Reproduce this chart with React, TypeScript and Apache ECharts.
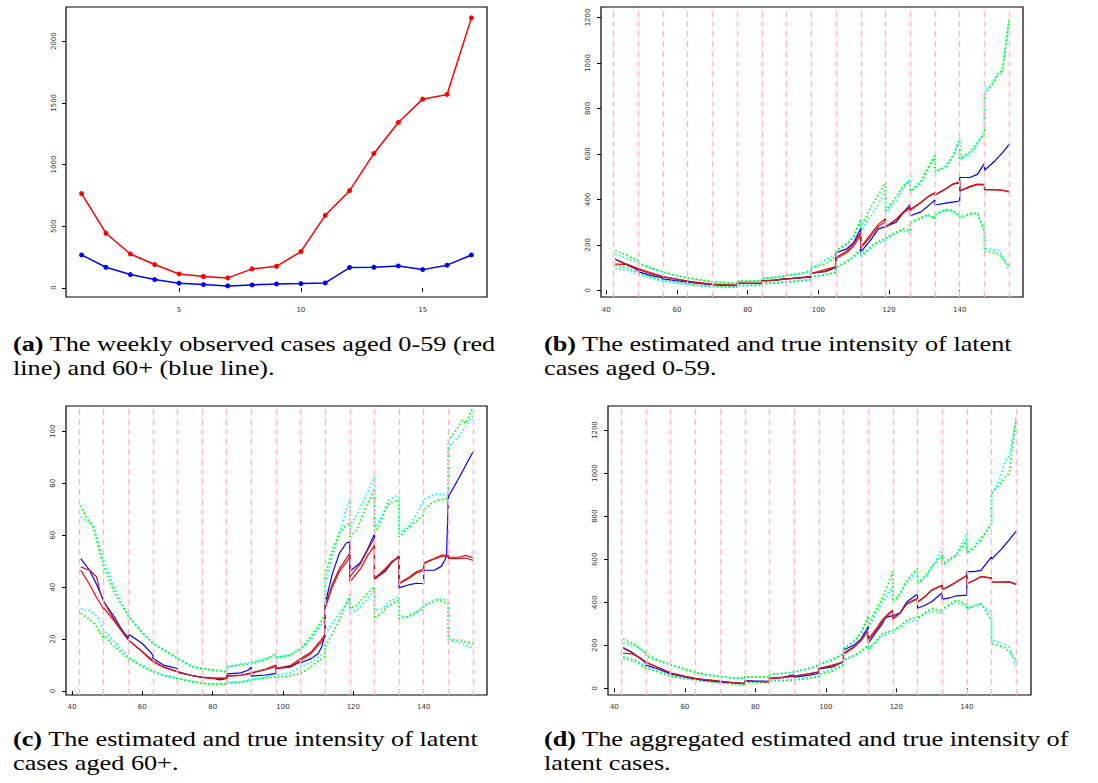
import React, { useEffect, useRef } from "react";
import * as echarts from "echarts";

// ---------- Panel (a): weekly observed cases ----------
const obsWeeks = [1, 2, 3, 4, 5, 6, 7, 8, 9, 10, 11, 12, 13, 14, 15, 16, 17];
const obsAged0to59 = [764, 443, 275, 189, 113, 92, 81, 154, 175, 294, 588, 788, 1090, 1341, 1530, 1568, 2189];
const obsAged60plus = [267, 167, 108, 67, 38, 27, 16, 24, 32, 35, 40, 165, 167, 178, 148, 184, 267];
const aXTicks = [5, 10, 15];
const aYTicks = [0, 500, 1000, 1500, 2000];

// ---------- week boundaries (dashed pink lines) ----------
const weekBoundaries = [42, 49, 56, 63, 70, 77, 84, 91, 98, 105, 112, 119, 126, 133, 140, 147, 154];
const dayTicks = [40, 60, 80, 100, 120, 140];
const bYTicks = [0, 200, 400, 600, 800, 1000, 1200];
const cYTicks = [0, 20, 40, 60, 80, 100];
const dYTicks = [0, 200, 400, 600, 800, 1000, 1200];

// ---------- Panel (b): aged 0-59 ----------
const bTrue = [[42.5,137],[45,118],[49,88],[49,82],[52,68],[56,55],[56,50],[60,42],[63,36],[63,38],[66,30],[70,25],[70,24],[73,22],[77,20],[77,32],[80,30],[84,30],[84,42],[88,44],[90,50],[91,50],[91,48],[95,54],[98,58],[98,75],[102,82],[105,100],[105,165],[108,182],[110,210],[112,272],[112,168],[115,225],[117,270],[119,280],[119,282],[122,300],[124,340],[126,378],[126,328],[129,345],[131,370],[133,397],[133,375],[136,383],[138,388],[140,392],[140,496],[143,497],[145,510],[147,558],[147,528],[150,570],[152,603],[154,642]];
const bEst1 = [[42.5,115],[46,114],[49,96],[56,60],[63,40],[70,27],[77,22],[77,30],[84,32],[84,41],[91,50],[98,61],[98,75],[105,104],[105,145],[108,172],[110,205],[112,255],[112,190],[115,250],[117,290],[119,315],[119,280],[122,312],[124,345],[126,365],[126,355],[129,387],[131,412],[133,430],[133,420],[136,447],[138,467],[140,477],[140,438],[143,458],[145,467],[147,466],[147,444],[150,443],[152,441],[154,434]];
const bEst2 = [[42.5,137],[45,120],[49,92],[52,75],[56,59],[60,48],[63,40],[66,32],[70,26],[73,24],[77,22],[77,30],[80,30],[84,32],[84,40],[88,44],[91,50],[95,55],[98,60],[98,74],[102,85],[105,103],[105,140],[108,165],[110,195],[112,245],[112,185],[115,240],[117,280],[119,302],[119,278],[122,310],[124,340],[126,362],[126,352],[129,385],[131,410],[133,428],[133,418],[136,445],[138,465],[140,475],[140,436],[143,455],[145,465],[147,464],[147,442],[150,442],[152,440],[154,432]];
const bUpperA = [[42.5,175],[45,160],[49,130],[49,118],[52,100],[56,82],[60,65],[63,55],[66,48],[70,38],[73,34],[77,30],[77,40],[80,40],[84,42],[84,52],[88,58],[91,65],[95,75],[98,85],[98,100],[102,115],[105,150],[105,175],[108,200],[110,240],[112,310],[112,280],[115,370],[117,420],[119,475],[119,350],[122,410],[124,460],[126,480],[126,435],[129,480],[131,540],[133,590],[133,520],[136,545],[138,590],[140,660],[140,580],[143,610],[145,650],[147,690],[147,860],[149,900],[151,960],[152,965],[154,1195]];
const bUpperB = [[42.5,160],[49,122],[56,78],[63,52],[70,36],[77,28],[77,38],[84,40],[84,50],[91,62],[98,82],[98,98],[105,160],[105,172],[110,230],[112,315],[112,265],[115,330],[117,380],[119,440],[119,340],[122,395],[124,450],[126,490],[126,430],[129,470],[131,530],[133,600],[133,525],[136,540],[138,585],[140,670],[140,575],[143,600],[145,640],[147,700],[147,880],[149,910],[151,950],[152,955],[154,1190]];
const bLowerA = [[42.5,110],[46,98],[49,78],[52,62],[56,45],[60,35],[63,28],[66,22],[70,18],[73,16],[77,14],[77,22],[80,22],[84,24],[84,30],[88,32],[91,38],[95,42],[98,48],[98,60],[102,68],[105,80],[105,100],[108,125],[110,150],[112,180],[112,150],[115,195],[117,215],[119,225],[119,230],[122,255],[124,270],[126,262],[126,300],[129,320],[131,335],[133,315],[133,335],[136,355],[138,350],[140,325],[140,320],[143,338],[145,340],[147,265],[147,170],[149,168],[151,160],[152,140],[154,105]];
const bLowerB = [[42.5,95],[46,88],[49,70],[52,58],[56,40],[60,32],[63,25],[66,20],[70,15],[73,13],[77,12],[77,20],[84,22],[84,28],[91,35],[98,45],[98,58],[105,78],[105,98],[110,145],[112,175],[112,145],[115,185],[117,210],[119,222],[119,228],[122,250],[124,262],[126,255],[126,295],[129,315],[131,330],[133,312],[133,330],[136,352],[138,348],[140,330],[140,318],[143,335],[145,338],[147,255],[147,185],[149,180],[151,175],[152,150],[154,88]];

// ---------- Panel (c): aged 60+ ----------
const cTrue = [[42.5,51],[45,46.5],[47,41],[49,35],[49,34.4],[52,28.6],[54,24],[56,20.3],[56,22],[60,18.3],[62,15.5],[63,13.8],[63,12.6],[66,10],[70,8.7],[70,7.2],[74,6],[77,5.4],[80,5],[82,4.3],[84,4.9],[84,6.6],[88,7],[90,8],[91,9.2],[91,5.8],[95,6.2],[98,6.8],[98,8.7],[102,9.2],[105,11.3],[105,10.9],[108,12.5],[110,14.5],[111,17],[112,22],[112,33.7],[114,45],[116,53],[118,57],[119,57.4],[119,46],[122,49.5],[124,54.5],[126,60.4],[126,43],[129,46],[131,49.5],[133,51.9],[133,39.7],[136,41],[138,41.5],[140,41.3],[140,46.5],[143,46.5],[145,48],[146.5,51.7],[147,74.7],[150,82],[152,87],[154,92]];
const cEst1 = [[42.5,46.5],[45,41],[47,36],[49,31.5],[49,32],[52,27],[56,19.6],[60,15],[63,11.3],[66,9.2],[70,7.4],[74,6],[77,5.3],[80,4.9],[84,4.9],[84,5.7],[88,6],[91,6.8],[95,8.2],[98,9.5],[98,8.5],[102,9.5],[105,11.8],[108,14.5],[111,19],[112,21.5],[112,32],[114,40],[116,46],[119,51.5],[119,42],[122,47],[124,52],[126,56],[126,43.3],[129,47],[131,50],[133,51.7],[133,41.3],[136,43.5],[138,45.5],[140,46.5],[140,49.4],[143,51],[145,52.3],[147,52.3],[147,51.5],[150,51.5],[152,52.2],[154,51.3]];
const cEst2 = [[42.5,47.8],[45,46.5],[47,44],[48,38],[49,34.5],[52,27.5],[56,19.8],[60,15.3],[63,11.8],[66,9.3],[70,7.5],[74,6],[77,5.3],[80,5],[84,5],[84,5.9],[88,6.2],[91,7],[95,8.5],[98,10],[98,8.8],[102,9.8],[105,12.5],[108,15],[111,20],[112,22],[112,33],[114,41],[116,47],[119,53],[119,44],[122,49],[124,54],[126,59],[126,43],[129,46.5],[131,49.5],[133,52],[133,41.5],[136,44],[138,46],[140,47],[140,49],[143,50.8],[145,51.8],[147,51.8],[147,51],[150,51],[152,51.2],[154,50.3]];
const cUpperA = [[42.5,71.5],[44,67],[46,63.2],[47,58],[49,48],[52,38],[56,29],[60,22.5],[63,18.3],[67,15.1],[70,12.6],[74,9.5],[77,8.7],[80,8.1],[84,7.4],[84,9.4],[88,10],[91,10.6],[95,12],[98,14.5],[98,12.9],[102,13.8],[105,16.4],[108,21],[111,27.3],[112,30],[112,45.3],[114,54],[116,60.6],[118,64],[119,64.5],[119,59.4],[121,62],[123,69],[126,77.9],[126,60.6],[128,66],[130,72.2],[133,73.5],[133,59.4],[135,62],[137,64.5],[140,67.7],[140,69.6],[142,72],[144,73.5],[147,74.1],[147,96.5],[149,100],[151,104.2],[152,103],[154,109.4]];
const cUpperB = [[42.5,67],[44,65.5],[46,64],[48,55],[49,50.4],[52,40],[56,28.6],[60,22.5],[63,18.5],[67,15],[70,12.5],[74,9.5],[77,8.5],[80,8.2],[84,7.5],[84,9.2],[88,10.5],[91,11],[95,12.5],[98,13.5],[98,13],[102,14],[105,16],[108,20],[110,24],[112,27.3],[112,41.4],[114,52],[116,60.6],[118,70],[119,74.1],[119,63.2],[121,68],[123,73.5],[126,82.4],[126,63.2],[128,67],[130,73.5],[132,75],[133,74.7],[133,60.6],[136,64],[138,68],[140,73.5],[142,75],[144,76],[147,75.3],[147,94],[150,98],[152,102],[154,106]];
const cLowerA = [[42.5,29.9],[46,26.7],[49,20.3],[49,21.5],[52,17.1],[56,12.6],[60,9.4],[63,7.4],[66,6],[70,4.9],[74,3.6],[77,2.9],[80,2.6],[84,2.7],[84,3.2],[88,3.3],[91,4.2],[95,5],[98,5.5],[98,5.2],[102,5.8],[105,6.8],[108,9.4],[110,11.5],[112,13.2],[112,17],[114,22],[116,27.3],[119,36.9],[119,31.8],[121,33],[123,36.3],[126,40.1],[126,27.9],[128,30],[130,33],[133,35],[133,27.9],[135,28.5],[137,29.9],[140,31.8],[140,33],[142,34],[144,35],[147,33.7],[147,20.3],[149,19.5],[151,19.6],[152,18.8],[154,18.3]];
const cLowerB = [[42.5,31.8],[45,31],[47,29],[49,23.5],[52,19],[56,13.2],[60,10],[63,7.8],[66,6.2],[70,4.9],[74,3.8],[77,3.2],[80,3],[84,2.9],[84,3.3],[88,3.6],[91,4.5],[95,5.5],[98,6.5],[98,6],[102,7],[105,9.4],[108,11],[110,13],[112,15.1],[112,22.2],[114,26],[116,29.9],[119,35.6],[119,30.5],[121,31],[123,34],[126,38.8],[126,31.2],[128,31.5],[130,34.4],[133,36.3],[133,29.2],[135,28.5],[137,29],[140,33],[142,34],[144,35.6],[147,35],[147,19.6],[149,19],[151,18.5],[152,17.5],[154,16.4]];

// ---------- Panel (d): aggregated ----------
const dTrue = [[42.5,190],[45,168],[49,118],[49,108],[52,92],[56,67],[60,53],[63,43],[66,37],[70,30],[73,26],[77,22],[77,36],[80,34],[84,33],[84,46],[88,50],[90,60],[91,62],[91,52],[95,60],[98,70],[98,90],[102,100],[105,124],[105,178],[108,201],[110,230],[112,286],[112,209],[114,255],[116,300],[117,330],[119,338],[121,350],[123,402],[126,438],[126,372],[128,385],[130,402],[133,444],[133,413],[135,420],[137,430],[140,433],[140,542],[142,542],[144,548],[146,590],[147,611],[147,599],[150,650],[152,690],[154,731]];
const dEst1 = [[42.5,163],[45,160],[47,145],[49,120],[56,70],[63,45],[70,33],[77,22],[77,33],[84,30],[84,45],[91,56],[98,76],[98,92],[105,122],[105,158],[108,190],[110,222],[112,268],[112,226],[114,270],[116,318],[118,352],[119,362],[119,322],[121,348],[123,392],[126,415],[126,400],[128,423],[130,455],[133,478],[133,458],[135,473],[137,493],[140,523],[140,486],[142,502],[144,520],[147,514],[147,493],[150,493],[152,494],[154,482]];
const dEst2 = [[42.5,186],[45,165],[49,122],[52,100],[56,72],[60,56],[63,46],[66,40],[70,34],[73,28],[77,23],[77,34],[80,32],[84,31],[84,46],[88,52],[91,57],[95,67],[98,77],[98,93],[102,105],[105,124],[105,163],[108,194],[110,225],[112,271],[112,224],[114,265],[116,310],[118,345],[119,364],[119,325],[121,350],[123,395],[126,418],[126,402],[128,425],[130,457],[133,480],[133,460],[135,475],[137,495],[140,526],[140,488],[142,500],[144,519],[147,511],[147,495],[150,495],[152,496],[154,485]];
const dUpperA = [[42.5,228],[46,201],[49,163],[49,150],[52,130],[56,108],[60,88],[63,73],[66,62],[70,54],[73,48],[77,46],[77,54],[80,52],[84,54],[84,65],[88,70],[91,77],[95,90],[98,108],[98,112],[102,130],[105,163],[105,186],[108,217],[110,260],[112,336],[112,286],[114,360],[116,418],[118,500],[119,542],[119,402],[121,440],[123,503],[126,557],[126,488],[128,520],[130,565],[133,619],[133,580],[135,600],[137,619],[140,689],[140,627],[142,650],[144,689],[147,766],[147,906],[149,940],[151,983],[152,1000],[154,1262]];
const dUpperB = [[42.5,210],[46,195],[49,165],[52,135],[56,110],[60,90],[63,75],[70,55],[77,45],[77,52],[84,52],[84,63],[91,75],[98,105],[98,110],[105,160],[105,182],[110,250],[112,330],[112,280],[114,340],[116,400],[118,450],[119,472],[119,400],[121,430],[123,490],[126,550],[126,490],[128,510],[130,560],[133,650],[133,570],[135,590],[137,620],[140,720],[140,630],[142,660],[144,700],[147,760],[147,900],[149,960],[151,1060],[152,1080],[154,1246]];
const dLowerA = [[42.5,139],[46,125],[49,93],[52,78],[56,56],[60,45],[63,38],[66,32],[70,26],[73,20],[77,15],[77,28],[80,27],[84,26],[84,34],[88,34],[91,38],[95,45],[98,54],[98,65],[102,80],[105,108],[105,130],[108,150],[110,175],[112,201],[112,181],[114,215],[116,255],[119,271],[121,290],[123,317],[126,333],[126,325],[128,350],[130,372],[133,356],[133,367],[135,390],[137,410],[140,387],[140,372],[142,385],[144,395],[147,317],[147,209],[149,200],[151,186],[152,170],[154,132]];
const dLowerB = [[42.5,147],[46,132],[49,101],[52,82],[56,60],[60,47],[63,40],[70,28],[77,18],[77,30],[84,28],[84,36],[91,40],[98,56],[98,68],[105,110],[105,132],[110,170],[112,194],[112,178],[114,210],[116,245],[119,263],[119,268],[121,280],[123,305],[126,317],[126,322],[128,345],[130,360],[133,348],[133,362],[135,385],[137,400],[140,379],[140,370],[142,380],[144,390],[147,348],[147,224],[149,215],[151,201],[152,190],[154,101]];

// ---------- captions ----------
const captions = [
  { tag: "(a)", line1: " The weekly observed cases aged 0-59 (red", line2: "line) and 60+ (blue line).", col: 0, row: 0 },
  { tag: "(b)", line1: " The estimated and true intensity of latent", line2: "cases aged 0-59.", col: 1, row: 0 },
  { tag: "(c)", line1: " The estimated and true intensity of latent", line2: "cases aged 60+.", col: 0, row: 1 },
  { tag: "(d)", line1: " The aggregated estimated and true intensity of", line2: "latent cases.", col: 1, row: 1 },
];

const BLUE = "#0000ff";
const RED = "#ff0000";
const DARKRED = "#b5202a";
const GREEN = "#00ff00";
const CYAN = "#00ffff";
const PINK = "#ffb6c8";

function lineS(data: number[][], gi: number, color: string, width: number, dotted: boolean, z: number) {
  return {
    type: "line",
    xAxisIndex: gi,
    yAxisIndex: gi,
    data,
    showSymbol: false,
    symbol: "none",
    z,
    lineStyle: { color, width, type: dotted ? [1.6, 2.4] : "solid" },
    emphasis: { disabled: true },
  };
}

function boundarySeries(gi: number) {
  return {
    type: "line",
    xAxisIndex: gi,
    yAxisIndex: gi,
    data: [],
    z: 1,
    markLine: {
      silent: true,
      symbol: ["none", "none"],
      label: { show: false },
      lineStyle: { color: PINK, type: [6, 4], width: 1.4 },
      data: weekBoundaries.map((w) => ({ xAxis: w })),
    },
  };
}

const labelFont = { fontSize: 7, color: "#333", fontFamily: "DejaVu Sans", formatter: (v: number) => String(v) };

function xAx(gi: number, min: number, max: number, ticks: number[], margin: number) {
  return {
    type: "value",
    gridIndex: gi,
    min,
    max,
    axisLine: { show: false },
    splitLine: { show: false },
    axisTick: { show: true, customValues: ticks, length: 4, lineStyle: { color: "#000", width: 1 } },
    axisLabel: { customValues: ticks, margin, ...labelFont },
  };
}
function yAx(gi: number, min: number, max: number, ticks: number[], margin: number) {
  return {
    type: "value",
    gridIndex: gi,
    min,
    max,
    axisLine: { show: false },
    splitLine: { show: false },
    axisTick: { show: true, customValues: ticks, length: 4, lineStyle: { color: "#000", width: 1 } },
    axisLabel: { customValues: ticks, rotate: 90, margin, ...labelFont },
  };
}

export default function App() {
  const ref = useRef<HTMLDivElement>(null);
  useEffect(() => {
    if (!ref.current) return;
    const chart = echarts.init(ref.current, null, { renderer: "svg" });

    const gridBase = { show: true, borderColor: "#000", borderWidth: 1.2, backgroundColor: "transparent", containLabel: false };
    const grids = [
      { left: 66, top: 7, width: 421, height: 290 },
      { left: 601, top: 7, width: 422, height: 290 },
      { left: 66, top: 406, width: 421, height: 289 },
      { left: 608, top: 406, width: 423, height: 289 },
    ].map((g) => ({ ...gridBase, ...g }));

    const panels = [
      { gi: 1, truth: bTrue, e1: bEst1, e2: bEst2, ua: bUpperA, ub: bUpperB, la: bLowerA, lb: bLowerB },
      { gi: 2, truth: cTrue, e1: cEst1, e2: cEst2, ua: cUpperA, ub: cUpperB, la: cLowerA, lb: cLowerB },
      { gi: 3, truth: dTrue, e1: dEst1, e2: dEst2, ua: dUpperA, ub: dUpperB, la: dLowerA, lb: dLowerB },
    ];

    const series: any[] = [
      {
        type: "line",
        xAxisIndex: 0,
        yAxisIndex: 0,
        data: obsWeeks.map((w, i) => [w, obsAged0to59[i]]),
        symbol: "circle",
        symbolSize: 5,
        itemStyle: { color: RED },
        lineStyle: { color: RED, width: 1.5 },
        z: 3,
      },
      {
        type: "line",
        xAxisIndex: 0,
        yAxisIndex: 0,
        data: obsWeeks.map((w, i) => [w, obsAged60plus[i]]),
        symbol: "circle",
        symbolSize: 5,
        itemStyle: { color: BLUE },
        lineStyle: { color: BLUE, width: 1.5 },
        z: 3,
      },
    ];
    panels.forEach((p) => {
      series.push(boundarySeries(p.gi));
      series.push(lineS(p.ub, p.gi, CYAN, 1.7, true, 2));
      series.push(lineS(p.lb, p.gi, CYAN, 1.7, true, 2));
      series.push(lineS(p.ua, p.gi, GREEN, 1.7, true, 2));
      series.push(lineS(p.la, p.gi, GREEN, 1.7, true, 2));
      series.push(lineS(p.truth, p.gi, BLUE, 1.2, false, 3));
      series.push(lineS(p.e1, p.gi, RED, 1.2, false, 4));
      series.push(lineS(p.e2, p.gi, DARKRED, 1.2, false, 4));
    });

    const capFont = '"Liberation Serif", "Times New Roman", serif';
    const capSize = 21.5;
    const capScaleX = 1.22;
    const colX = [13, 544];
    const rowY = [344, 739];
    const graphics: any[] = [];
    captions.forEach((c) => {
      graphics.push({
        type: "text",
        x: colX[c.col],
        y: rowY[c.row],
        scaleX: capScaleX,
        style: {
          text: "{b|" + c.tag + "}{n|" + c.line1 + "}",
          rich: {
            b: { fontWeight: "bold", fontSize: capSize, fontFamily: capFont, fill: "#000" },
            n: { fontSize: capSize, fontFamily: capFont, fill: "#000" },
          },
          verticalAlign: "middle",
          align: "left",
        },
      });
      graphics.push({
        type: "text",
        x: colX[c.col],
        y: rowY[c.row] + 24,
        scaleX: capScaleX,
        style: {
          text: c.line2,
          font: capSize + "px " + capFont,
          fill: "#000",
          verticalAlign: "middle",
          align: "left",
        },
      });
    });

    chart.setOption({
      animation: false,
      backgroundColor: "#fff",
      grid: grids,
      xAxis: [
        xAx(0, 0.36, 17.64, aXTicks, 9),
        xAx(1, 38.5, 157.9, dayTicks, 9),
        xAx(2, 38.3, 158, dayTicks, 8),
        xAx(3, 38.2, 158.2, dayTicks, 8),
      ],
      yAxis: [
        yAx(0, -74, 2277, aYTicks, 9),
        yAx(1, -29.5, 1246, bYTicks, 10),
        yAx(2, -1.5, 109.7, cYTicks, 10),
        yAx(3, -31, 1312, dYTicks, 10),
      ],
      series,
      graphic: graphics,
    });
    return () => chart.dispose();
  }, []);
  return (
    <div
      ref={ref}
      style={{ position: "absolute", left: 0, top: 0, width: 1098, height: 783, background: "#fff" }}
    />
  );
}
